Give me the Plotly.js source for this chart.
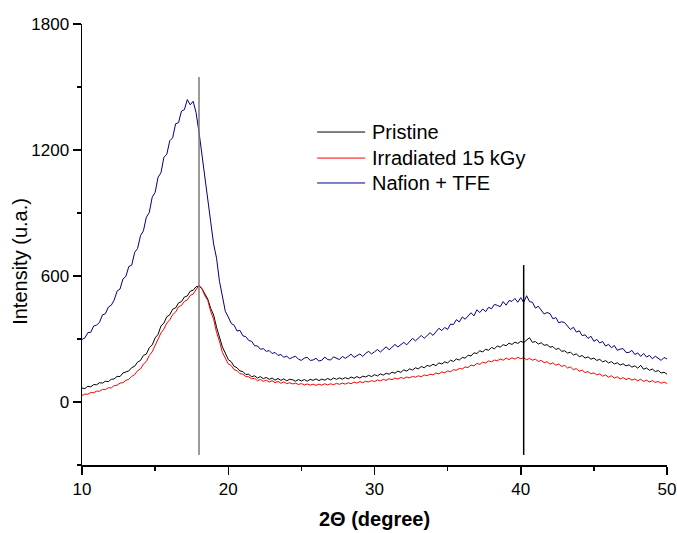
<!DOCTYPE html>
<html>
<head>
<meta charset="utf-8">
<script src="https://cdn.plot.ly/plotly-3.0.1.min.js"></script>
<style>html,body{margin:0;padding:0;background:#fff;}#chart{width:677px;height:533px;}</style>
</head>
<body>
<div id="chart"></div>
<script>
// 2-theta grid: 10.0 to 50.0 in 0.2 degree steps (201 samples)
const thetaStart = 10;
const thetaStep = 0.2;

const nafionTFE = [
  298,305,330,332,362, 366,380,415,420,452, 461,485,528,538,586, 598,645,652,712,731,
  792,815,880,902,975, 998,1070,1092,1165,1180, 1244,1258,1325,1330,1385, 1392,1440,1415,1432,1378,
  1285,1172,1068,942,858, 752,685,575,508,432, 405,374,366,338,341, 315,311,293,289,268,
  267,251,254,241,245, 231,236,222,226,213, 218,206,213,218,204, 198,209,213,198,200,
  208,195,199,214,202, 200,215,209,202,217, 208,217,228,212,222, 229,217,232,241,229,
  239,250,238,251,263, 248,263,274,262,273, 284,272,288,303,291, 306,317,303,317,330,
  317,336,351,340,355, 346,371,369,392,381, 405,394,411,425,410, 439,426,443,430,451,
  444,465,460,454,478, 461,483,479,493,475, 497,474,506,478,475, 447,456,440,419,426,
  421,396,402,377,382, 378,364,345,356,333, 339,316,320,303,313, 289,298,281,288,266,
  275,258,269,246,252, 254,236,236,246,226, 234,217,231,214,222, 206,218,210,198,212,
  205
];

const pristine = [
  66,64,75,72,83, 82,92,90,99,97, 108,110,122,121,138, 143,148,164,170,190,
  198,222,228,258,272, 305,322,362,376,406, 415,442,448,472,478, 500,505,528,532,549,
  552,540,512,490,446, 414,356,314,262,233, 202,192,170,163,148, 145,131,132,120,125,
  114,121,111,117,108, 114,104,112,103,110, 101,108,106,99,107, 100,107,99,108,103,
  110,102,109,104,112, 105,114,108,115,109, 116,110,119,113,121, 114,123,119,127,121,
  130,124,134,128,137, 132,142,137,147,141, 153,147,158,152,163, 158,169,163,174,170,
  180,173,186,181,191, 186,199,193,205,200, 212,209,223,219,234, 231,244,238,252,246,
  260,253,267,261,273, 268,280,274,285,279, 289,283,296,306,284, 288,276,282,270,273,
  261,264,250,256,241, 244,233,237,224,229, 216,221,209,215,204, 209,198,203,191,197,
  186,192,181,187,176, 182,172,177,166,172, 161,175,156,162,151, 157,145,150,138,142,
  132
];

const irradiated = [
  31,38,37,45,44, 52,51,60,59,68, 67,78,80,90,92, 103,108,122,130,149,
  157,181,193,221,239, 268,292,329,347,376, 391,416,428,453,460, 479,486,507,514,538,
  556,540,506,484,431, 394,331,289,236,209, 182,174,154,149,135, 133,121,120,110,113,
  101,108,98,104,95, 102,92,98,89,96, 87,92,86,90,83, 88,81,86,80,85,
  79,85,80,87,81, 87,82,89,84,90, 85,92,87,95,90, 97,92,99,95,102,
  97,105,100,108,103, 111,106,114,109,117, 112,119,115,122,118, 125,120,129,125,133,
  129,138,134,143,139, 148,144,154,151,160, 157,167,164,176,172, 184,179,190,185,196,
  191,200,196,205,199, 209,202,211,204,213, 206,211,201,208,199, 204,193,198,187,192,
  180,187,175,181,169, 175,162,167,154,159, 146,152,140,145,134, 139,129,134,123,129,
  118,125,114,120,110, 116,107,113,104,110, 101,108,98,104,95, 102,93,98,89,95,
  88
];

const seriesNames = ["Pristine", "Irradiated 15 kGy", "Nafion + TFE"];
const seriesColors = ["#000000", "#ff0000", "#000080"];

// reference (peak marker) lines
const markerX = [18.0, 40.2];
const markerBottom = [-252, -252];
const markerTop = [1548, 652];
const markerColors = ["#7a7a7a", "#000000"];

const xTickVals = [10, 20, 30, 40, 50];
const yTickVals = [0, 600, 1200, 1800];

const theta = nafionTFE.map((_, i) => +(thetaStart + i * thetaStep).toFixed(2));

const dataSets = [pristine, irradiated, nafionTFE];
const traces = dataSets.map((ys, k) => ({
  x: theta, y: ys, type: "scatter", mode: "lines",
  name: seriesNames[k], showlegend: false,
  line: {color: seriesColors[k], width: 1}
}));

const shapes = markerX.map((mx, k) => ({
  type: "line", xref: "x", yref: "y",
  x0: mx, x1: mx, y0: markerBottom[k], y1: markerTop[k],
  line: {color: markerColors[k], width: 1.5}
}));

// legend box (paper coordinates)
const legendLineX = [0.402, 0.484];
const legendTextX = 0.493;
const legendRowY = [0.755, 0.696, 0.6395];
const annotations = [];
seriesNames.forEach((nm, k) => {
  shapes.push({type: "line", xref: "paper", yref: "paper",
    x0: legendLineX[0], x1: legendLineX[1], y0: legendRowY[k], y1: legendRowY[k],
    line: {color: seriesColors[k], width: 1}});
  annotations.push({xref: "paper", yref: "paper", x: legendTextX, y: legendRowY[k],
    xanchor: "left", yanchor: "middle", showarrow: false, text: nm,
    font: {size: 20, color: "#000"}});
});
// y-axis title, placed like the original (slightly below axis centre)
annotations.push({xref: "paper", yref: "paper", x: -0.106, y: 0.463,
  xanchor: "center", yanchor: "middle", textangle: -90, showarrow: false,
  text: "Intensity (u.a.)", font: {size: 20, color: "#000"}});

const font = "Liberation Sans, Arial, sans-serif";

const layout = {
  width: 677, height: 533,
  margin: {l: 82, r: 10, t: 24, b: 68},
  paper_bgcolor: "#ffffff", plot_bgcolor: "#ffffff",
  font: {family: font, color: "#000", size: 17},
  showlegend: false,
  xaxis: {
    range: [10, 50], showgrid: false, zeroline: false,
    showline: true, linecolor: "#000", linewidth: 1.5,
    ticks: "outside", ticklen: 8, tickwidth: 1.5, tickcolor: "#000",
    tickvals: xTickVals, ticktext: xTickVals.map(String),
    tickfont: {size: 17},
    minor: {dtick: 5, tick0: 0, ticks: "outside", ticklen: 4, tickwidth: 1.5, tickcolor: "#000", showgrid: false},
    title: {text: "<b>2\u0398 (degree)</b>", font: {size: 20}, standoff: 14}
  },
  yaxis: {
    range: [-300, 1800], showgrid: false, zeroline: false,
    showline: true, linecolor: "#000", linewidth: 1.5,
    ticks: "outside", ticklen: 8, tickwidth: 1.5, tickcolor: "#000",
    tickvals: yTickVals, ticktext: yTickVals.map(String),
    tickfont: {size: 17},
    minor: {dtick: 300, tick0: 0, ticks: "outside", ticklen: 4, tickwidth: 1.5, tickcolor: "#000", showgrid: false}
  },
  shapes: shapes,
  annotations: annotations
};

Plotly.newPlot("chart", traces, layout, {displayModeBar: false, staticPlot: true});
</script>
</body>
</html>
